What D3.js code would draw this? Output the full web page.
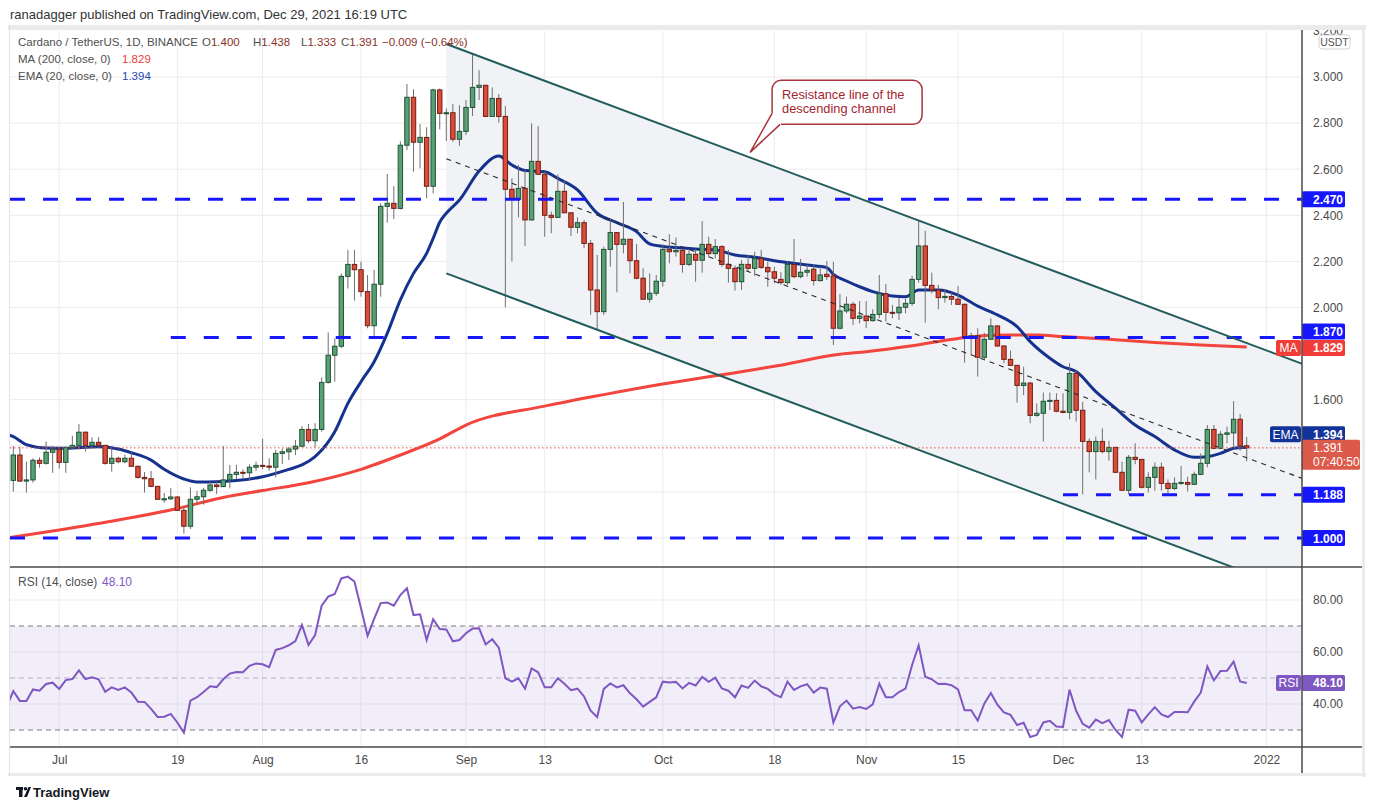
<!DOCTYPE html>
<html>
<head>
<meta charset="utf-8">
<style>
  body { margin: 0; background: #ffffff; }
  svg { display: block; font-family: "Liberation Sans", Arial, sans-serif; }
  .axis text { font-size: 12px; fill: #4a4a4a; }
  .axis .domain, .axis line { display: none; }
</style>
</head>
<body>
<svg id="chart" width="1374" height="810"></svg>
<script src="https://d3js.org/d3.v7.min.js"></script>
<script>

// daily candles, [open, high, low, close]
const ohlcJun = [
  [1.250,1.399,1.201,1.360],[1.360,1.396,1.244,1.247],[1.247,1.331,1.197,1.252],[1.252,1.346,1.240,1.337],
  [1.337,1.350,1.305,1.324],[1.324,1.419,1.318,1.372],[1.372,1.399,1.283,1.385]
]
const ohlcJul = [
  [1.385,1.396,1.301,1.328],[1.328,1.396,1.283,1.392],[1.392,1.444,1.386,1.402],[1.402,1.495,1.385,1.459],
  [1.459,1.462,1.375,1.402],[1.402,1.437,1.389,1.415],[1.415,1.438,1.396,1.402],[1.402,1.404,1.318,1.324],
  [1.324,1.389,1.288,1.346],[1.346,1.353,1.324,1.331],[1.331,1.363,1.324,1.346],[1.346,1.375,1.309,1.311],
  [1.311,1.315,1.257,1.263],[1.263,1.286,1.197,1.257],[1.257,1.291,1.221,1.224],[1.224,1.226,1.165,1.168],
  [1.168,1.195,1.153,1.170],[1.170,1.216,1.165,1.178],[1.178,1.181,1.118,1.120],[1.120,1.135,1.019,1.051],
  [1.051,1.220,1.039,1.168],[1.168,1.204,1.149,1.179],[1.179,1.218,1.145,1.207],[1.207,1.244,1.200,1.230],
  [1.230,1.244,1.191,1.223],[1.223,1.399,1.221,1.252],[1.252,1.317,1.215,1.276],[1.276,1.317,1.256,1.285],
  [1.285,1.298,1.259,1.283],[1.283,1.320,1.249,1.307],[1.307,1.331,1.291,1.315]
]
const ohlcAug = [
  [1.315,1.430,1.298,1.312],[1.312,1.346,1.292,1.307],[1.307,1.382,1.263,1.367],[1.367,1.389,1.321,1.374],
  [1.374,1.396,1.338,1.386],[1.386,1.425,1.360,1.398],[1.398,1.486,1.396,1.471],[1.471,1.495,1.411,1.422],
  [1.422,1.498,1.392,1.471],[1.471,1.697,1.461,1.675],[1.675,1.892,1.670,1.793],[1.793,1.866,1.678,1.832],
  [1.832,2.148,1.823,2.135],[2.135,2.250,2.082,2.187],[2.187,2.250,2.030,2.164],[2.164,2.199,2.047,2.069],
  [2.069,2.141,1.910,1.921],[1.921,2.163,1.871,2.101],[2.101,2.452,2.047,2.439],[2.439,2.579,2.368,2.452],
  [2.452,2.527,2.383,2.430],[2.430,2.720,2.425,2.704],[2.704,2.970,2.683,2.912],[2.912,2.947,2.589,2.717],
  [2.717,2.796,2.604,2.738],[2.738,2.782,2.474,2.526],[2.526,2.949,2.495,2.944],[2.944,2.950,2.773,2.842],
  [2.842,2.864,2.722,2.845],[2.845,2.883,2.719,2.730],[2.730,2.878,2.701,2.764]
]
const ohlcSep = [
  [2.764,2.900,2.748,2.868],[2.868,3.100,2.831,2.955],[2.955,3.030,2.900,2.964],[2.964,2.966,2.827,2.829],
  [2.829,2.955,2.827,2.907],[2.907,2.926,2.802,2.829],[2.829,2.874,2.001,2.513],[2.513,2.560,2.199,2.469],
  [2.469,2.618,2.391,2.517],[2.517,2.597,2.267,2.380],[2.380,2.799,2.378,2.634],[2.634,2.787,2.575,2.578],
  [2.578,2.589,2.307,2.400],[2.400,2.416,2.322,2.391],[2.391,2.578,2.390,2.504],[2.504,2.553,2.409,2.411],
  [2.411,2.413,2.310,2.348],[2.348,2.391,2.322,2.368],[2.368,2.380,2.257,2.278],[2.278,2.293,1.968,2.076],
  [2.076,2.228,1.902,1.982],[1.982,2.264,1.968,2.252],[2.252,2.387,2.177,2.325],[2.325,2.327,2.066,2.274],
  [2.274,2.458,2.235,2.296],[2.296,2.298,2.148,2.203],[2.203,2.275,2.122,2.127],[2.127,2.170,2.033,2.036],
  [2.036,2.148,2.021,2.062],[2.062,2.141,2.051,2.114]
]
const ohlcOct = [
  [2.114,2.274,2.090,2.252],[2.252,2.318,2.192,2.242],[2.242,2.304,2.221,2.248],[2.248,2.254,2.151,2.187],
  [2.187,2.254,2.180,2.231],[2.231,2.254,2.112,2.205],[2.205,2.375,2.151,2.274],[2.274,2.307,2.221,2.234],
  [2.234,2.297,2.213,2.264],[2.264,2.271,2.177,2.187],[2.187,2.250,2.108,2.170],[2.170,2.182,2.073,2.112],
  [2.112,2.206,2.076,2.187],[2.187,2.228,2.158,2.170],[2.170,2.242,2.137,2.213],[2.213,2.250,2.167,2.174],
  [2.174,2.199,2.090,2.155],[2.155,2.177,2.105,2.127],[2.122,2.153,2.098,2.108],[2.108,2.199,2.098,2.187],
  [2.187,2.297,2.127,2.134],[2.134,2.211,2.127,2.153],[2.153,2.184,2.134,2.161],[2.166,2.184,2.095,2.117],
  [2.117,2.177,2.112,2.141],[2.144,2.202,2.119,2.134],[2.137,2.199,1.837,1.910],[1.910,2.059,1.905,1.985],
  [1.985,2.047,1.975,2.014],[2.014,2.025,1.924,1.953],[1.953,2.028,1.931,1.963]
]
const ohlcNov = [
  [1.963,2.028,1.910,1.943],[1.943,1.992,1.939,1.970],[1.970,2.141,1.953,2.060],[2.060,2.102,1.939,1.979],
  [1.979,2.011,1.953,1.977],[1.977,2.040,1.946,2.001],[2.001,2.038,1.975,2.018],[2.018,2.137,2.007,2.122],
  [2.122,2.377,2.108,2.267],[2.267,2.333,1.934,2.096],[2.096,2.151,2.062,2.076],[2.076,2.098,1.992,2.043],
  [2.043,2.079,2.021,2.048],[2.048,2.064,2.011,2.036],[2.036,2.093,2.011,2.014],[2.014,2.016,1.761,1.871],
  [1.871,1.891,1.794,1.877],[1.877,1.910,1.700,1.784],[1.784,1.891,1.772,1.862],[1.862,1.953,1.859,1.920],
  [1.920,1.922,1.830,1.833],[1.833,1.836,1.758,1.775],[1.775,1.813,1.746,1.749],[1.749,1.751,1.587,1.662],
  [1.662,1.743,1.620,1.672],[1.672,1.678,1.498,1.532],[1.532,1.584,1.526,1.541],[1.541,1.631,1.418,1.593],
  [1.593,1.631,1.555,1.597],[1.597,1.628,1.545,1.550]
]
const ohlcDec = [
  [1.550,1.628,1.541,1.545],[1.545,1.758,1.515,1.714],[1.714,1.729,1.505,1.554],[1.554,1.591,1.189,1.419],
  [1.419,1.432,1.285,1.375],[1.375,1.440,1.254,1.419],[1.419,1.476,1.367,1.375],[1.375,1.422,1.336,1.393],
  [1.393,1.396,1.283,1.285],[1.285,1.331,1.205,1.207],[1.207,1.360,1.189,1.350],[1.350,1.411,1.320,1.341],
  [1.341,1.343,1.215,1.220],[1.220,1.285,1.197,1.263],[1.263,1.328,1.205,1.307],[1.307,1.327,1.205,1.237],
  [1.237,1.254,1.187,1.215],[1.215,1.263,1.208,1.237],[1.237,1.312,1.230,1.241],[1.241,1.266,1.201,1.233],
  [1.233,1.288,1.230,1.276],[1.276,1.367,1.273,1.324],[1.324,1.490,1.307,1.471],[1.471,1.490,1.385,1.389],
  [1.389,1.464,1.385,1.450],[1.450,1.483,1.411,1.456],[1.456,1.594,1.393,1.515],[1.515,1.538,1.379,1.400],
  [1.400,1.438,1.333,1.391]
]

// RSI(14), first value is Jun 23 (just off the left edge)
const rsiValues = [
  39.0,
  45.0,41.2,41.2,45.6,45.1,47.7,48.2,
  45.8,49.2,49.6,52.9,49.6,50.3,49.5,44.7,46.4,45.4,46.4,44.4,40.9,40.8,38.1,35.0,35.1,36.2,32.9,29.0,
  41.3,42.6,44.6,46.8,46.5,49.5,51.7,52.3,52.2,54.7,55.6,
  55.3,54.2,60.8,61.5,62.6,64.2,70.4,62.7,66.5,77.8,81.3,82.3,88.3,89.0,87.1,76.8,66.2,72.7,78.8,79.0,
  77.8,81.9,84.5,74.2,74.5,64.6,72.6,68.8,68.7,64.1,64.6,
  67.2,69.0,69.1,62.9,64.9,61.7,49.9,48.6,49.9,45.9,53.7,52.2,46.4,46.4,49.9,47.8,45.3,45.9,42.9,37.4,
  35.0,45.8,47.9,46.4,47.2,44.1,41.8,39.0,40.8,42.6,
  48.6,48.3,48.5,46.0,48.1,47.1,50.4,48.5,50.1,46.0,45.1,42.6,47.1,46.2,49.0,46.8,45.8,43.7,42.6,48.6,
  45.4,46.8,47.6,44.4,46.3,45.9,32.9,39.1,41.3,38.2,38.8,
  38.1,39.9,47.8,42.6,42.6,44.6,45.9,55.0,62.6,50.5,49.5,47.7,47.8,47.2,45.6,37.6,37.6,33.6,40.1,44.2,
  39.7,36.8,35.8,31.9,32.8,27.3,28.1,32.9,33.5,31.3,
  31.2,45.5,37.4,32.4,30.9,34.0,32.6,33.8,30.0,27.3,37.8,37.4,32.9,36.0,38.8,36.0,35.0,36.9,36.9,36.8,
  40.9,44.4,54.4,49.1,52.7,52.8,56.3,48.7,48.1
]

// EMA 20
const emaDates = ["2021-06-23","2021-06-24","2021-06-26","2021-06-29","2021-07-02","2021-07-07","2021-07-10","2021-07-12",
  "2021-07-15","2021-07-17","2021-07-20","2021-07-22","2021-07-25","2021-07-28","2021-08-01","2021-08-05","2021-08-07",
  "2021-08-09","2021-08-12","2021-08-14","2021-08-16","2021-08-18","2021-08-20","2021-08-22","2021-08-24","2021-08-26",
  "2021-08-27","2021-08-28","2021-08-29","2021-08-31","2021-09-03","2021-09-06","2021-09-08","2021-09-10","2021-09-13",
  "2021-09-15","2021-09-18","2021-09-21","2021-09-24","2021-09-27","2021-09-29","2021-10-01","2021-10-03","2021-10-06",
  "2021-10-09","2021-10-12","2021-10-15","2021-10-18","2021-10-20","2021-10-23","2021-10-26","2021-10-27","2021-10-29",
  "2021-10-31","2021-11-02","2021-11-05","2021-11-07","2021-11-09","2021-11-12","2021-11-15","2021-11-18","2021-11-21",
  "2021-11-24","2021-11-26","2021-11-29","2021-12-01","2021-12-03","2021-12-06","2021-12-09","2021-12-12","2021-12-15",
  "2021-12-18","2021-12-21","2021-12-23","2021-12-25","2021-12-27","2021-12-29"]
const emaValues = [1.450,1.440,1.405,1.390,1.389,1.396,1.386,1.370,
  1.338,1.298,1.256,1.243,1.244,1.249,1.266,1.298,1.317,
  1.353,1.461,1.584,1.678,1.765,1.888,2.033,2.148,2.235,
  2.300,2.370,2.409,2.466,2.592,2.657,2.618,2.594,2.589,
  2.560,2.510,2.409,2.368,2.329,2.276,2.265,2.260,2.254,
  2.250,2.228,2.218,2.203,2.195,2.184,2.173,2.144,2.115,
  2.090,2.069,2.050,2.047,2.076,2.076,2.054,2.006,1.968,
  1.917,1.852,1.780,1.743,1.722,1.635,1.563,1.490,1.440,
  1.382,1.350,1.353,1.367,1.389,1.394]

// MA 200
const maDates = ["2021-06-23","2021-07-01","2021-07-10","2021-07-19","2021-07-26","2021-08-01","2021-08-08","2021-08-16",
  "2021-08-22","2021-08-28","2021-09-01","2021-09-13","2021-09-22","2021-10-01","2021-10-10","2021-10-18","2021-10-28",
  "2021-11-01","2021-11-08","2021-11-15","2021-11-20","2021-11-27","2021-12-01","2021-12-08","2021-12-15","2021-12-22","2021-12-29"]
const maValues = [1.000,1.035,1.078,1.128,1.176,1.206,1.240,1.298,
  1.360,1.430,1.490,1.572,1.622,1.668,1.708,1.745,1.797,
  1.808,1.834,1.866,1.880,1.881,1.874,1.862,1.848,1.837,1.829]

// horizontal support / resistance lines and where each starts
const levelValues = [2.470, 1.870, 1.188, 1.000]
const levelStarts = ["2021-06-20", "2021-07-18", "2021-12-01", "2021-06-20"]

// descending channel (two anchor dates)
const channelDates = ["2021-08-29", "2022-01-07"]
const channelUpper = [3.143, 1.750]
const channelLower = [2.148, 0.755]

const lastPrice = 1.391
const lastEma = 1.394
const lastMa = 1.829
const lastRsi = 48.10

const timeTicks = ["2021-07-01","2021-07-19","2021-08-01","2021-08-16","2021-09-01","2021-09-13","2021-10-01",
  "2021-10-18","2021-11-01","2021-11-15","2021-12-01","2021-12-13","2022-01-01"]
const timeLabels = ["Jul","19","Aug","16","Sep","13","Oct","18","Nov","15","Dec","13","2022"]
const priceTicks = [1.0,1.2,1.4,1.6,1.8,2.0,2.2,2.4,2.6,2.8,3.0,3.2]
const priceLabelTicks = [1.6,2.0,2.2,2.4,2.6,2.8,3.0,3.2]   // the others sit under price tags
const rsiTicks = [40, 60, 80]

// ---------------------------------------------------------------

let parse = d3.utcParse("%Y-%m-%d")
let days = d3.utcDay.range(parse("2021-06-24"), parse("2021-12-30"))
let candles = [].concat(ohlcJun, ohlcJul, ohlcAug, ohlcSep, ohlcOct, ohlcNov, ohlcDec)
    .map((d, i) => ({date: days[i], o: d[0], h: d[1], l: d[2], c: d[3]}))

let rsiDays = [parse("2021-06-23")].concat(days)
let rsiData = rsiValues.map((v, i) => ({date: rsiDays[i], v: v}))
let emaData = emaDates.map((d, i) => ({date: parse(d), v: emaValues[i]}))
let maData = maDates.map((d, i) => ({date: parse(d), v: maValues[i]}))

let paneL = 10, paneR = 1302, mainT = 31, mainB = 567, rsiT = 567, rsiB = 747

let x = d3.scaleUtc()
    .domain([parse("2021-06-24"), parse("2021-12-29")])
    .range([13.3, 1246.7])
let y = d3.scaleLinear().domain([1, 3]).range([538, 77])
let yr = d3.scaleLinear().domain([30, 80]).range([730, 600])

let svg = d3.select("#chart")
let defs = svg.append("defs")
defs.append("clipPath").attr("id", "clipMain").append("rect")
    .attr("x", paneL).attr("y", mainT).attr("width", paneR - paneL).attr("height", mainB - mainT)
defs.append("clipPath").attr("id", "clipRsi").append("rect")
    .attr("x", paneL).attr("y", rsiT).attr("width", paneR - paneL).attr("height", rsiB - rsiT)

let gridColor = "#ececee"
let levelColor = "#1717ff"
let channelColor = "#225d5c"

// grid
let grid = svg.append("g")
grid.selectAll(".vgrid").data(timeTicks).join("line")
    .attr("x1", d => x(parse(d))).attr("x2", d => x(parse(d)))
    .attr("y1", mainT).attr("y2", rsiB)
    .attr("stroke", gridColor)
grid.selectAll(".hgrid").data(priceTicks.filter(d => d <= 3.0)).join("line")
    .attr("x1", paneL).attr("x2", paneR)
    .attr("y1", d => y(d)).attr("y2", d => y(d))
    .attr("stroke", gridColor)
grid.selectAll(".rgrid").data(rsiTicks).join("line")
    .attr("x1", paneL).attr("x2", paneR)
    .attr("y1", d => yr(d)).attr("y2", d => yr(d))
    .attr("stroke", gridColor)

let main = svg.append("g").attr("clip-path", "url(#clipMain)")

// channel fill
let cx0 = x(parse(channelDates[0])), cx1 = x(parse(channelDates[1]))
main.append("path")
    .attr("d", `M${cx0},${y(channelUpper[0])} L${cx1},${y(channelUpper[1])} L${cx1},${y(channelLower[1])} L${cx0},${y(channelLower[0])} Z`)
    .attr("fill", "#f0f2f5")

// moving averages
let line = d3.line().x(d => x(d.date)).y(d => y(d.v)).curve(d3.curveMonotoneX)
main.append("path").datum(maData).attr("d", line)
    .attr("fill", "none").attr("stroke", "#f1453d").attr("stroke-width", 3)
main.append("path").datum(emaData).attr("d", line)
    .attr("fill", "none").attr("stroke", "#15338e").attr("stroke-width", 3)

// candles
let cg = main.append("g").selectAll("g").data(candles).join("g")
cg.append("line")
    .attr("x1", d => x(d.date)).attr("x2", d => x(d.date))
    .attr("y1", d => y(d.h)).attr("y2", d => y(d.l))
    .attr("stroke", "#6f6f6f").attr("stroke-width", 1)
cg.append("rect")
    .attr("x", d => x(d.date) - 2.2).attr("width", 4.4)
    .attr("y", d => y(Math.max(d.o, d.c)))
    .attr("height", d => Math.max(1, Math.abs(y(d.o) - y(d.c))))
    .attr("fill", d => d.c >= d.o ? "#5b9f77" : "#d84c39")
    .attr("stroke", d => d.c >= d.o ? "#1e5434" : "#761c12")
    .attr("stroke-width", 1)

// horizontal levels
main.selectAll(".level").data(levelValues).join("line")
    .attr("x1", (d, i) => Math.max(paneL, x(parse(levelStarts[i])))).attr("x2", paneR)
    .attr("y1", d => y(d)).attr("y2", d => y(d))
    .attr("stroke", levelColor).attr("stroke-width", 3).attr("stroke-dasharray", "15 18")

// channel lines and median
main.append("line")
    .attr("x1", cx0).attr("y1", y(channelUpper[0])).attr("x2", cx1).attr("y2", y(channelUpper[1]))
    .attr("stroke", channelColor).attr("stroke-width", 2)
main.append("line")
    .attr("x1", cx0).attr("y1", y(channelLower[0])).attr("x2", cx1).attr("y2", y(channelLower[1]))
    .attr("stroke", channelColor).attr("stroke-width", 2)
main.append("line")
    .attr("x1", cx0).attr("y1", y((channelUpper[0] + channelLower[0]) / 2))
    .attr("x2", cx1).attr("y2", y((channelUpper[1] + channelLower[1]) / 2))
    .attr("stroke", "#2a2a2a").attr("stroke-width", 1.2).attr("stroke-dasharray", "5 5")

// last price dotted line
main.append("line")
    .attr("x1", paneL).attr("x2", paneR).attr("y1", y(lastPrice)).attr("y2", y(lastPrice))
    .attr("stroke", "#e0503f").attr("stroke-width", 1).attr("stroke-dasharray", "1.5 2.5")

// callout
let tipX = x(parse("2021-10-14")) + 2, tipY = y(2.673)
let call = svg.append("g")
let bx = tipX + 22, by = tipY - 72
call.append("rect").attr("x", bx).attr("y", by).attr("width", 150).attr("height", 44).attr("rx", 9)
    .attr("fill", "#ffffff").attr("stroke", "#a8343d").attr("stroke-width", 1.5)
call.append("path")
    .attr("d", `M${bx - 1},${by + 33} L${tipX},${tipY} L${bx + 9},${by + 45.5} L${bx + 9},${by + 33} Z`)
    .attr("fill", "#ffffff")
call.append("path")
    .attr("d", `M${bx},${by + 33} L${tipX},${tipY} L${bx + 8},${by + 44}`)
    .attr("fill", "none").attr("stroke", "#a8343d").attr("stroke-width", 1.5)
call.append("text").attr("x", bx + 10).attr("y", by + 19)
    .attr("font-size", 12.8).attr("fill", "#a3262f").text("Resistance line of the")
call.append("text").attr("x", bx + 10).attr("y", by + 33)
    .attr("font-size", 12.8).attr("fill", "#a3262f").text("descending channel")

// RSI pane
let rsi = svg.append("g").attr("clip-path", "url(#clipRsi)")
rsi.append("rect").attr("x", paneL).attr("width", paneR - paneL)
    .attr("y", yr(70)).attr("height", yr(30) - yr(70))
    .attr("fill", "rgba(126,87,194,0.1)")
rsi.selectAll(".band").data([70, 50, 30]).join("line")
    .attr("x1", paneL).attr("x2", paneR)
    .attr("y1", d => yr(d)).attr("y2", d => yr(d))
    .attr("stroke", d => d == 50 ? "#b4b0c0" : "#787b86")
    .attr("stroke-width", 1.2).attr("stroke-dasharray", "5 4")
rsi.append("path").datum(rsiData)
    .attr("d", d3.line().x(d => x(d.date)).y(d => yr(d.v)))
    .attr("fill", "none").attr("stroke", "#7e57c2").attr("stroke-width", 2)

// axes
svg.append("g").attr("class", "axis")
    .attr("transform", `translate(${paneR},0)`)
    .call(d3.axisRight(y).tickValues(priceLabelTicks).tickFormat(d3.format(".3f")).tickSize(0).tickPadding(11))
svg.append("g").attr("class", "axis")
    .attr("transform", `translate(${paneR},0)`)
    .call(d3.axisRight(yr).tickValues(rsiTicks).tickFormat(d3.format(".2f")).tickSize(0).tickPadding(11))
svg.append("g").attr("class", "axis")
    .attr("transform", `translate(0,${rsiB})`)
    .call(d3.axisBottom(x).tickValues(timeTicks.map(parse)).tickFormat((d, i) => timeLabels[i]).tickSize(0).tickPadding(8))

// USDT badge
svg.append("rect").attr("x", 1319).attr("y", 35).attr("width", 31).attr("height", 14).attr("rx", 3)
    .attr("fill", "#ffffff").attr("stroke", "#d0d3da")
svg.append("text").attr("x", 1334.5).attr("y", 46).attr("text-anchor", "middle")
    .attr("font-size", 10.5).attr("fill", "#555").text("USDT")

// price tags
function tag(yc, fill, label, side, sideW) {
    svg.append("rect").attr("x", paneR).attr("y", yc - 8).attr("width", 43).attr("height", 16)
        .attr("rx", 1.5).attr("fill", fill)
    svg.append("text").attr("x", paneR + 11).attr("y", yc + 4.5)
        .attr("font-size", 12).attr("font-weight", "bold").attr("fill", "#ffffff").text(label)
    if (side) {
        svg.append("rect").attr("x", paneR - sideW - 1).attr("y", yc - 8).attr("width", sideW).attr("height", 16)
            .attr("rx", 2).attr("fill", fill)
        svg.append("text").attr("x", paneR - 1 - sideW / 2).attr("y", yc + 4.5).attr("text-anchor", "middle")
            .attr("font-size", 12).attr("fill", "#ffffff").text(side)
    }
}
let fmt3 = d3.format(".3f")
tag(y(levelValues[0]), levelColor, fmt3(levelValues[0]))
tag(y(levelValues[1]) - 6, levelColor, fmt3(levelValues[1]))
tag(y(lastMa) + 1, "#f23c37", fmt3(lastMa), "MA", 25)
tag(y(levelValues[2]), levelColor, fmt3(levelValues[2]))
tag(y(levelValues[3]), levelColor, fmt3(levelValues[3]))
tag(y(lastEma) - 13, "#12349a", fmt3(lastEma), "EMA", 31)
tag(yr(lastRsi), "#7e57c2", d3.format(".2f")(lastRsi), "RSI", 25)

// last price tag with countdown
let py = y(lastPrice)
svg.append("rect").attr("x", paneR).attr("y", py - 8).attr("width", 58).attr("height", 30).attr("rx", 1.5)
    .attr("fill", "#dc5a4a")
svg.append("text").attr("x", paneR + 11).attr("y", py + 4.5).attr("font-size", 12)
    .attr("fill", "#ffffff").text(fmt3(lastPrice))
svg.append("text").attr("x", paneR + 11).attr("y", py + 18).attr("font-size", 12)
    .attr("fill", "#ffffff").text("07:40:50")

// frame and separators
svg.append("rect").attr("x", 8).attr("y", 25).attr("width", 1358).attr("height", 5).attr("fill", "#ebebeb")
svg.append("rect").attr("x", 1362).attr("y", 25).attr("width", 3).attr("height", 752).attr("fill", "#ebebeb")
svg.append("rect").attr("x", 8).attr("y", 773).attr("width", 1358).attr("height", 3).attr("fill", "#ebebeb")
svg.append("line").attr("x1", 9.5).attr("x2", 9.5).attr("y1", 25).attr("y2", 776).attr("stroke", "#e2e2e2")
svg.append("line").attr("x1", paneL).attr("x2", 1362).attr("y1", mainB).attr("y2", mainB)
    .attr("stroke", "#4a4a4a").attr("stroke-width", 1.5)
svg.append("line").attr("x1", paneL).attr("x2", 1362).attr("y1", rsiB).attr("y2", rsiB)
    .attr("stroke", "#4a4a4a").attr("stroke-width", 1.5)
svg.append("line").attr("x1", paneR).attr("x2", paneR).attr("y1", 30).attr("y2", 773)
    .attr("stroke", "#4a4a4a").attr("stroke-width", 1.5)

// header texts
svg.append("text").attr("x", 10).attr("y", 19).attr("font-size", 13).attr("fill", "#333")
    .text("ranadagger published on TradingView.com, Dec 29, 2021 16:19 UTC")

let gray = "#4f4f4f", valRed = "#8c3026"
let h1 = svg.append("g").attr("font-size", 11.5)
h1.append("text").attr("x", 18).attr("y", 46).attr("fill", gray).text("Cardano / TetherUS, 1D, BINANCE")
let ohlcParts = [["O", "1.400", 202], ["H", "1.438", 253], ["L", "1.333", 301], ["C", "1.391", 341]]
ohlcParts.forEach(p => {
    let t = h1.append("text").attr("x", p[2]).attr("y", 46)
    t.append("tspan").attr("fill", gray).text(p[0])
    t.append("tspan").attr("fill", valRed).text(p[1])
})
h1.append("text").attr("x", 382).attr("y", 46).attr("fill", valRed).text("\u22120.009 (\u22120.64%)")
h1.append("text").attr("x", 18).attr("y", 63).attr("fill", gray).text("MA (200, close, 0)")
h1.append("text").attr("x", 122).attr("y", 63).attr("fill", "#f23c37").text(fmt3(lastMa))
h1.append("text").attr("x", 18).attr("y", 80).attr("fill", gray).text("EMA (20, close, 0)")
h1.append("text").attr("x", 122).attr("y", 80).attr("fill", "#2646a8").text(fmt3(lastEma))

svg.append("text").attr("x", 18).attr("y", 586).attr("font-size", 12).attr("fill", gray).text("RSI (14, close)")
svg.append("text").attr("x", 102).attr("y", 586).attr("font-size", 12).attr("fill", "#7e57c2")
    .text(d3.format(".2f")(lastRsi))

// TradingView logo
let logo = svg.append("g").attr("fill", "#131722")
logo.append("rect").attr("x", 16).attr("y", 787).attr("width", 7).attr("height", 3)
logo.append("rect").attr("x", 19).attr("y", 787).attr("width", 3.5).attr("height", 10)
logo.append("circle").attr("cx", 25.5).attr("cy", 788.8).attr("r", 1.8)
logo.append("path").attr("d", "M24,797 L28.5,787 L31,787 L27,797 Z")
svg.append("text").attr("x", 33).attr("y", 797).attr("font-size", 13).attr("font-weight", "bold")
    .attr("fill", "#131722").text("TradingView")

</script>
</body>
</html>
